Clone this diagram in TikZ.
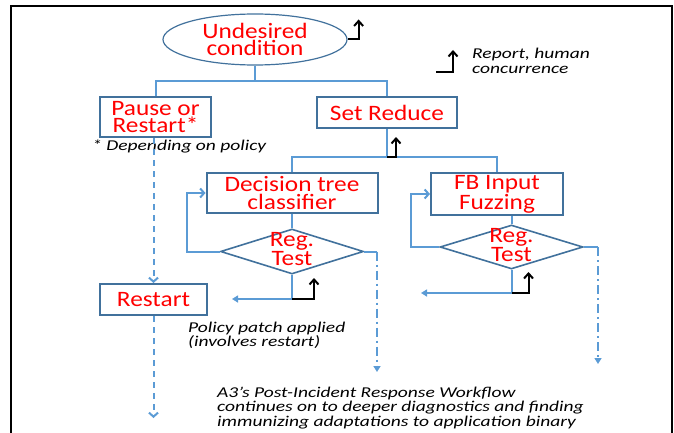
\documentclass[tikz,border=0pt]{standalone}
\usepackage{fontspec}
\setmainfont[FakeStretch=1.15]{Carlito}
\newfontfamily\notefont[FakeStretch=1.3]{Carlito}
\usetikzlibrary{shapes.geometric,arrows.meta}
\definecolor{boxblue}{HTML}{41719C}
\definecolor{lineblue}{HTML}{5B9BD5}
\definecolor{redtxt}{HTML}{FF0000}
\tikzset{
  redt/.style={text=redtxt, font=\fontsize{22}{17.5}\selectfont, align=center},
  box/.style={draw=boxblue, line width=2pt, rectangle, inner sep=0pt, redt},
  dia/.style={draw=boxblue, line width=1.6pt, diamond, inner sep=0pt},
  conn/.style={draw=lineblue, line width=2pt},
  note/.style={font=\notefont\fontsize{15}{14.5}\selectfont\itshape, align=left, anchor=west, inner sep=0pt},
  rep/.style={draw=black, line width=2pt, -{Straight Barb[length=5pt,width=9pt]}},
  openarr/.style={-{Straight Barb[length=4pt,width=9pt]}},
  fillarr/.style={-{Triangle[length=6pt,width=7pt]}},
}
\begin{document}
\begin{tikzpicture}[x=1pt,y=-1pt]
\useasboundingbox (0,0) rectangle (674,433);
\draw[line width=2.5pt] (11,434) -- (11,6) -- (672,6) -- (672,434);

% nodes
\node[ellipse, draw=boxblue, line width=1.2pt, minimum width=184, minimum height=51, inner sep=0pt, redt] (ell) at (255,39.5) {Undesired\\condition};
\node[box, minimum width=111, minimum height=40] (pause) at (155.5,117) {Pause or\\Restart*};
\node[box, minimum width=140, minimum height=31] (setr) at (387,112.5) {Set Reduce};
\node[box, minimum width=171, minimum height=40] (dtc) at (292,193) {Decision tree\\classifier};
\node[box, minimum width=132, minimum height=42] (fbf) at (497,194) {FB Input\\Fuzzing};
\node[dia, minimum width=143, minimum height=45] (d1) at (292,251.5) {};
\node[redt] (t1) at (292,249) {Reg.\\Test};
\node[dia, minimum width=143, minimum height=44] (d2) at (511.5,247) {};
\node[redt] (t2) at (511.5,245) {Reg.\\Test};
\node[box, minimum width=107, minimum height=31] (restart) at (153.5,299.5) {Restart};

% notes
\node[note] (dep) at (92,146) {* Depending on policy};
\node[note] (leg) at (472,61) {Report, human\\concurrence};
\node[note] (pol) at (188,335.5) {Policy patch applied\\(involves restart)};
\node[note] (post) at (217,408) {A3’s Post-Incident Response Workflow\\continues on to deeper diagnostics and finding\\immunizing adaptations to application binary};

% coordinates
\coordinate (j1) at (255,81);
\coordinate (j2) at (387,157);
\coordinate (e1) at (377,372);
\coordinate (e2) at (598,364);
\coordinate (p1) at (232,299);
\coordinate (p2) at (421,293);
\coordinate (r0) at (153.5,418);

% connectors
\draw[conn] (ell.south) -- (j1);
\draw[conn] (pause.north) |- (j1) -| (setr.north);
\draw[conn] (setr.south) -- (j2);
\draw[conn] (dtc.north) |- (j2) -| (fbf.north);
\draw[conn] (dtc.south) -- (d1.north);
\draw[conn] (fbf.south -| d2.north) -- (d2.north);
\draw[conn, openarr] (d1.west) -- ++(-33,0) |- (dtc.west);
\draw[conn, openarr] (d2.west) -- ++(-28,0) |- (fbf.west);
\draw[conn] (d1.east) -- (d1.east -| e1);
\draw[conn, dash pattern=on 9pt off 4pt on 2pt off 4pt, fillarr] (d1.east -| e1) -- (e1);
\draw[conn] (d2.east) -- (d2.east -| e2);
\draw[conn, dash pattern=on 9pt off 4pt on 2pt off 4pt, fillarr] (d2.east -| e2) -- (e2);
\draw[conn, fillarr] (d1.south) |- (p1);
\draw[conn, fillarr] (d2.south) |- (p2);
\draw[conn, dash pattern=on 6pt off 5pt, openarr] (pause.south -| restart.north) -- (restart.north);
\draw[conn, dash pattern=on 6pt off 5pt, openarr] (restart.south) -- (r0);

% report arrows
\draw[rep] (ell.east) -- ++(11,0) -- ++(0,-20);
\draw[rep] (436,72) -- ++(17,0) -- ++(0,-22);
\draw[rep] (j2) -- ++(9,0) -- ++(0,-20);
\draw[rep] (d1.south |- p1) -- ++(22,0) -- ++(0,-21);
\draw[rep] (d2.south |- p2) -- ++(17,0) -- ++(0,-21);
\end{tikzpicture}
\end{document}
